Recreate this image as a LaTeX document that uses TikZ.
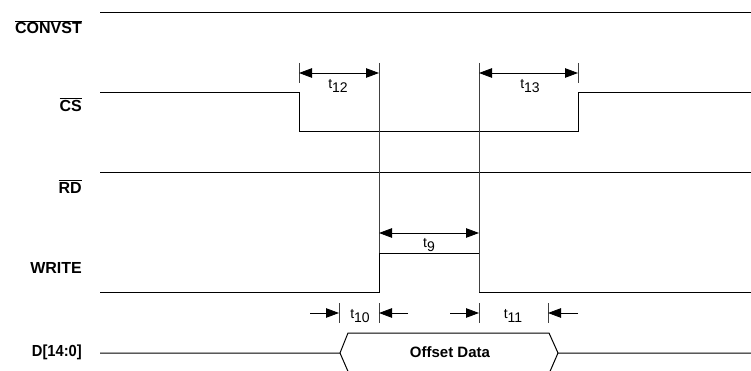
\documentclass[tikz,border=0pt]{standalone}
\usepackage{fontspec}
\setmainfont{Liberation Sans}
\usetikzlibrary{arrows.meta}
\newcommand{\ovl}[1]{$\overline{\hbox{#1}}$}
\newcommand{\tsub}[1]{t\raisebox{-4pt}{#1}}
\tikzset{
  sig/.style={line width=1pt,black},
  guide/.style={line width=0.8pt,black!75},
  dim/.style={line width=0.8pt,{Triangle[length=13pt,width=9.5pt]}-{Triangle[length=13pt,width=9.5pt]}},
  inarr/.style={line width=0.8pt,-{Triangle[length=13pt,width=9.5pt]}},
  lbl/.style={anchor=east,font=\bfseries\fontsize{16}{18}\selectfont,inner sep=0pt},
  tl/.style={font=\fontsize{14}{16}\selectfont,inner sep=0pt},
}
\begin{document}
\begin{tikzpicture}[x=1pt,y=-1pt]
\useasboundingbox (0,0) rectangle (751,371);
% labels
\node[lbl] (lconv) at (82,27) {\ovl{CONVST}};
\node[lbl] (lcs) at (82,104.5) {\ovl{CS}};
\node[lbl] (lrd) at (82,186.5) {\ovl{RD}};
\node[lbl] (lwr) at (82,268) {WRITE};
\node[lbl] (ld) at (82,352.5) {\scalebox{0.92}[1]{D[14:0]}};
% CONVST
\coordinate (cv0) at (100,13); \coordinate (cv1) at (751,13);
\draw[sig] (cv0) -- (cv1);
% CS
\coordinate (cs0) at (100,93); \coordinate (cs1) at (299,93);
\coordinate (cs2) at (299,132); \coordinate (cs3) at (578,132);
\coordinate (cs4) at (578,93); \coordinate (cs5) at (751,93);
\draw[sig] (cs0) -- (cs1) -- (cs2) -- (cs3) -- (cs4) -- (cs5);
% RD
\coordinate (rd0) at (100,173); \coordinate (rd1) at (751,173);
\draw[sig] (rd0) -- (rd1);
% WRITE
\coordinate (w0) at (100,292); \coordinate (w1) at (379,292);
\coordinate (w2) at (379,253); \coordinate (w3) at (479,253);
\coordinate (w4) at (479,292); \coordinate (w5) at (751,292);
\draw[sig] (w0) -- (w1) -- (w2) -- (w3) -- (w4) -- (w5);
% Data
\coordinate (d0) at (100,353); \coordinate (dl) at (340,353);
\coordinate (dtl) at (348,333); \coordinate (dtr) at (549,333);
\coordinate (dr) at (558,353); \coordinate (d1) at (751,353);
\coordinate (dbl) at (350,376); \coordinate (dbr) at (548,376);
\draw[sig] (d0) -- (dl) -- (dtl) -- (dtr) -- (dr) -- (d1);
\draw[sig] (dl) -- (dbl);
\draw[sig] (dr) -- (dbr);
\node[font=\bfseries\fontsize{15}{17}\selectfont,inner sep=0pt] (od) at (450,352) {Offset Data};
% guides
\coordinate (g1t) at (379,63); \coordinate (g2t) at (479,63);
\coordinate (k1t) at (299,63); \coordinate (k1b) at (299,83);
\coordinate (k2t) at (578,63); \coordinate (k2b) at (578,83);
\draw[guide] (g1t) -- (w2);
\draw[guide] (g2t) -- (w4);
\draw[guide] (k1t) -- (k1b);
\draw[guide] (k2t) -- (k2b);
% t12, t13
\coordinate (a12l) at (299,73); \coordinate (a12r) at (379,73);
\coordinate (a13l) at (479,73); \coordinate (a13r) at (578,73);
\draw[dim] (a12l) -- (a12r);
\draw[dim] (a13l) -- (a13r);
\node[tl] (t12) at (338,86) {\tsub{12}};
\node[tl] (t13) at (530,86) {\tsub{13}};
% t9
\coordinate (a9l) at (379,233); \coordinate (a9r) at (479,233);
\draw[dim] (a9l) -- (a9r);
\node[tl] (t9) at (429,245) {\tsub{9}};
% t10, t11
\coordinate (k3t) at (339,303); \coordinate (k3b) at (339,323);
\coordinate (k4t) at (379,303); \coordinate (k4b) at (379,323);
\coordinate (k5t) at (479,303); \coordinate (k5b) at (479,323);
\coordinate (k6t) at (548,303); \coordinate (k6b) at (548,323);
\draw[guide] (k3t) -- (k3b);
\draw[guide] (k4t) -- (k4b);
\draw[guide] (k5t) -- (k5b);
\draw[guide] (k6t) -- (k6b);
\coordinate (b1s) at (310,313); \coordinate (b1e) at (339,313);
\coordinate (b2s) at (408,313); \coordinate (b2e) at (379,313);
\coordinate (b3s) at (450,313); \coordinate (b3e) at (479,313);
\coordinate (b4s) at (578,313); \coordinate (b4e) at (548,313);
\draw[inarr] (b1s) -- (b1e);
\draw[inarr] (b2s) -- (b2e);
\draw[inarr] (b3s) -- (b3e);
\draw[inarr] (b4s) -- (b4e);
\node[tl] (t10) at (360,316) {\tsub{10}};
\node[tl] (t11) at (513,316) {\tsub{11}};
\end{tikzpicture}
\end{document}
